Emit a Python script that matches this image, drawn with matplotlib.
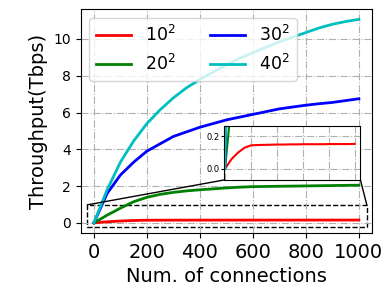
import matplotlib.pyplot as plt
from matplotlib.patches import Rectangle, ConnectionPatch
import numpy as np

conns = np.arange(0, 1001, 50)
tp_10 = [0, 0.06, 0.10, 0.13, 0.145, 0.147, 0.148, 0.149, 0.150, 0.150, 0.151,
         0.151, 0.152, 0.152, 0.152, 0.152, 0.153, 0.153, 0.153, 0.153, 0.154]
tp_20 = [0, 0.42, 0.8, 1.15, 1.39, 1.55, 1.66, 1.74, 1.8, 1.85, 1.9,
         1.94, 1.97, 1.98, 1.99, 2.0, 2.01, 2.02, 2.03, 2.04, 2.05]
tp_30 = [0, 1.6, 2.6, 3.3, 3.9, 4.3, 4.7, 4.95, 5.2, 5.4, 5.6,
         5.75, 5.9, 6.05, 6.2, 6.3, 6.4, 6.48, 6.55, 6.65, 6.75]
tp_40 = [0, 1.8, 3.3, 4.45, 5.4, 6.15, 6.8, 7.35, 7.8, 8.2, 8.6,
         8.95, 9.25, 9.55, 9.85, 10.1, 10.35, 10.6, 10.8, 10.95, 11.07]
xticks = [0, 200, 400, 600, 800, 1000]

series = [(tp_10, 'r', r'$10^2$'), (tp_20, 'g', r'$20^2$'),
          (tp_30, 'b', r'$30^2$'), (tp_40, 'c', r'$40^2$')]

fig = plt.figure(figsize=(3.84, 2.95), dpi=100)
ax = fig.add_axes([0.21, 0.21, 0.759, 0.759])
for y, c, lab in series:
    ax.plot(conns, y, color=c, lw=2, label=lab)
ax.set_xticks(xticks)
ax.grid(ls='-.', color='#b0b0b0')
ax.tick_params(axis='x', labelsize=14)
ax.tick_params(axis='y', labelsize=10)
ax.set_xlabel('Num. of connections', fontsize=14)
ax.set_ylabel('Throughput(Tbps)', fontsize=14)
ax.legend(loc='upper left', ncol=2, fontsize=12.5)

# zoomed region
ax.add_patch(Rectangle((-25, -0.25), 1055, 1.23, fill=False, ls='--', lw=1, ec='k'))

ins = ax.inset_axes([0.492, 0.237, 0.468, 0.241])
for y, c, lab in series:
    ins.plot(conns, y, color=c, lw=1.5)
ins.set_xlim(-8, 1045)
ins.set_ylim(-0.07, 0.265)
ins.set_xticks(xticks)
ins.set_yticks([0.0, 0.2])
ins.set_xticklabels([])
ins.tick_params(axis='y', labelsize=6, length=2, pad=1)
ins.tick_params(axis='x', length=0)
ins.grid(ls='-.', color='#b0b0b0')

for xa, xi in [(-25, 0), (1030, 1)]:
    cp = ConnectionPatch(xyA=(xa, 0.98), coordsA=ax.transData,
                         xyB=(xi, 0), coordsB=ins.transAxes, color='k', lw=1)
    fig.add_artist(cp)

fig.savefig('out.png')
